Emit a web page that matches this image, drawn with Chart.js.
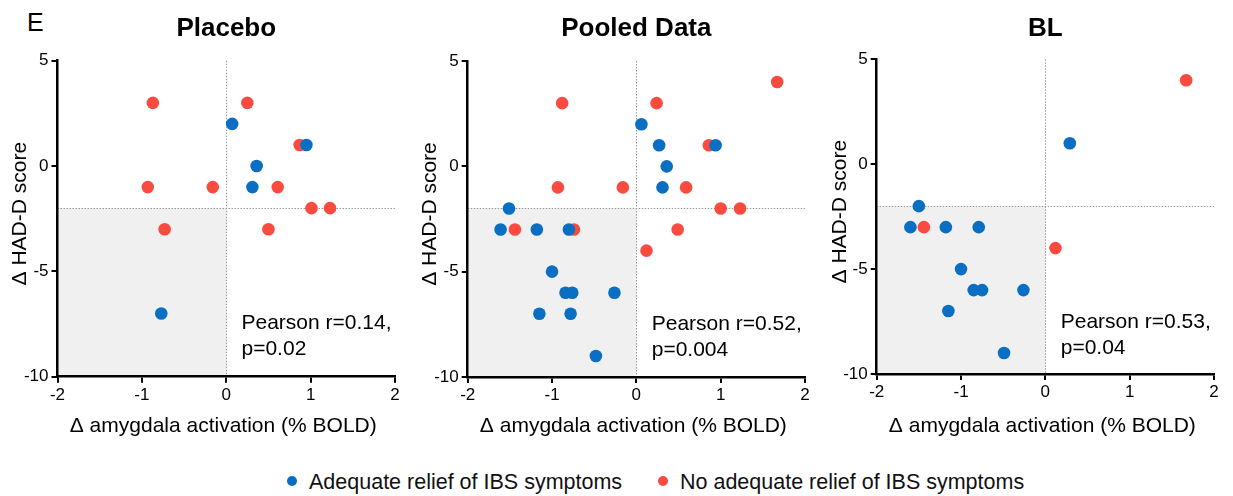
<!DOCTYPE html>
<html>
<head>
<meta charset="utf-8">
<script src="https://cdn.jsdelivr.net/npm/chart.js@4/dist/chart.umd.min.js"></script>
<style>
  html, body { margin: 0; padding: 0; background: #fff; }
  body { width: 1233px; height: 496px; position: relative; overflow: hidden; font-family: 'Liberation Sans', Arial, sans-serif; }
  .panel { position: absolute; top: 0; height: 440px; }
  .panel canvas { display: block; }
  #panelLetter { position: absolute; left: 27px; top: 8px; font-size: 25px; color: #000; }
  .legend { position: absolute; top: 469px; font-size: 21.5px; color: #111; white-space: nowrap; line-height: 26px; }
  .legend .dot { display: inline-block; width: 10px; height: 10px; border-radius: 50%; vertical-align: middle; margin-right: 12px; position: relative; top: -2px; }
</style>
</head>
<body>
<div id="panelLetter">E</div>
<div class="panel" style="left:0;width:410px"><canvas id="chartPlacebo" width="410" height="440"></canvas></div>
<div class="panel" style="left:410px;width:410px"><canvas id="chartPooled" width="410" height="440"></canvas></div>
<div class="panel" style="left:820px;width:413px"><canvas id="chartBL" width="413" height="440"></canvas></div>
<div class="legend" style="left:287px"><span class="dot" style="background:#0a6fc2"></span>Adequate relief of IBS symptoms</div>
<div class="legend" style="left:658px"><span class="dot" style="background:#fa4b40"></span>No adequate relief of IBS symptoms</div>

<script>
// axis ticks
const xTickValues = [-2, -1, 0, 1, 2];
const yTickValues = [5, 0, -5, -10];
const seriesNames = ['Adequate relief of IBS symptoms', 'No adequate relief of IBS symptoms'];

// Placebo
const placeboAdequateX = [0.07, 0.95, 0.36, 0.31, -0.77];
const placeboAdequateY = [2, 1, 0, -1, -7];
const placeboNoReliefX = [-0.87, 0.25, 0.87, -0.93, -0.16, 0.61, 1.01, 1.23, -0.73, 0.50];
const placeboNoReliefY = [3, 3, 1, -1, -1, -1, -2, -2, -3, -3];

// Pooled data
const pooledAdequateX = [0.06, 0.27, 0.94, 0.36, 0.31, -1.51, -1.61, -1.18, -0.80, -1.00, -0.84, -0.76, -0.26, -1.15, -0.78, -0.48];
const pooledAdequateY = [2, 1, 1, 0, -1, -2, -3, -3, -3, -5, -6, -6, -6, -7, -7, -9];
const pooledNoReliefX = [-0.88, 0.24, 1.67, 0.86, -0.93, -0.16, 0.59, 1.00, 1.23, -1.44, -0.74, 0.49, 0.12];
const pooledNoReliefY = [3, 3, 4, 1, -1, -1, -1, -2, -2, -3, -3, -3, -4];

// BL
const blAdequateX = [0.29, -1.50, -1.60, -1.18, -0.79, -1.00, -0.85, -0.75, -0.26, -1.15, -0.49];
const blAdequateY = [1, -2, -3, -3, -3, -5, -6, -6, -6, -7, -9];
const blNoReliefX = [1.67, -1.44, 0.12];
const blNoReliefY = [4, -3, -4];

const BLUE = '#0a6fc2', RED = '#fa4b40';
const FONT = "'Liberation Sans', Arial, sans-serif";

const toPoints = (xs, ys) => xs.map((x, i) => ({ x, y: ys[i] }));

// shaded quadrant, dotted reference lines, titles and the r/p note
const decorPlugin = {
  id: 'decor',
  beforeDraw(chart, args, o) {
    const { ctx, chartArea: a, scales: { x, y } } = chart;
    ctx.save();
    ctx.fillStyle = '#f0f0f0';
    ctx.fillRect(x.getPixelForValue(-2), y.getPixelForValue(-2), x.getPixelForValue(0) - x.getPixelForValue(-2), y.getPixelForValue(-10) - y.getPixelForValue(-2));
    ctx.strokeStyle = '#9a9a9a';
    ctx.lineWidth = 1;
    ctx.setLineDash([1.5, 1.5]);
    ctx.beginPath();
    ctx.moveTo(Math.round(x.getPixelForValue(0)) + 0.5, a.top);
    ctx.lineTo(Math.round(x.getPixelForValue(0)) + 0.5, a.bottom);
    ctx.moveTo(a.left, Math.round(y.getPixelForValue(-2)) + 0.5);
    ctx.lineTo(a.right, Math.round(y.getPixelForValue(-2)) + 0.5);
    ctx.stroke();
    ctx.restore();
  },
  afterDraw(chart, args, o) {
    const { ctx, chartArea: a } = chart;
    const cx = (a.left + a.right) / 2;
    ctx.save();
    ctx.fillStyle = '#000';
    ctx.textAlign = 'center';
    ctx.textBaseline = 'middle';
    ctx.font = 'bold 26px ' + FONT;
    ctx.fillText(o.title, cx, 29);
    ctx.font = '21px ' + FONT;
    ctx.fillText('\u0394 amygdala activation (% BOLD)', cx - 3, 426);
    ctx.save();
    ctx.translate(20, (a.top + a.bottom) / 2 - 5);
    ctx.rotate(-Math.PI / 2);
    ctx.fillText('\u0394 HAD-D score', 0, 0);
    ctx.restore();
    ctx.textAlign = 'left';
    ctx.fillText(o.r, a.left + 184, a.top + 263);
    ctx.fillText(o.p, a.left + 184, a.top + 289);
    ctx.restore();
  }
};

function makeChart(id, title, r, p, adequate, noRelief, box) {
  return new Chart(document.getElementById(id), {
    type: 'scatter',
    data: {
      datasets: [
        { label: seriesNames[0], data: adequate, backgroundColor: BLUE, borderWidth: 0, pointRadius: 6.3, pointHoverRadius: 6.3 },
        { label: seriesNames[1], data: noRelief, backgroundColor: RED, borderWidth: 0, pointRadius: 6.3, pointHoverRadius: 6.3 }
      ]
    },
    plugins: [decorPlugin],
    options: {
      responsive: false, animation: false, events: [],
      layout: { padding: { top: box.top, right: box.right, left: 0, bottom: 0 } },
      plugins: { legend: { display: false }, tooltip: { enabled: false }, decor: { title, r, p } },
      scales: {
        x: {
          type: 'linear', min: -2, max: 2,
          afterBuildTicks: s => { s.ticks = xTickValues.map(v => ({ value: v })); },
          afterFit: s => { s.height = box.bottom; },
          grid: { drawOnChartArea: false, drawTicks: true, tickLength: 6, color: '#000', lineWidth: 2 },
          border: { display: true, color: '#000', width: 2.5 },
          ticks: { color: '#000', font: { family: FONT, size: 17 }, padding: 2, maxRotation: 0 }
        },
        y: {
          type: 'linear', min: -10, max: 5,
          afterBuildTicks: s => { s.ticks = yTickValues.map(v => ({ value: v })); },
          afterFit: s => { s.width = box.left; },
          grid: { drawOnChartArea: false, drawTicks: true, tickLength: 6, color: '#000', lineWidth: 2 },
          border: { display: true, color: '#000', width: 2.5 },
          ticks: { color: '#000', font: { family: FONT, size: 17 }, padding: 3 }
        }
      }
    }
  });
}

makeChart('chartPlacebo', 'Placebo', 'Pearson r=0.14,', 'p=0.02',
  toPoints(placeboAdequateX, placeboAdequateY), toPoints(placeboNoReliefX, placeboNoReliefY),
  { left: 57.5, top: 60.7, right: 15, bottom: 63.3 });
makeChart('chartPooled', 'Pooled Data', 'Pearson r=0.52,', 'p=0.004',
  toPoints(pooledAdequateX, pooledAdequateY), toPoints(pooledNoReliefX, pooledNoReliefY),
  { left: 57.7, top: 61, right: 15, bottom: 63 });
makeChart('chartBL', 'BL', 'Pearson r=0.53,', 'p=0.04',
  toPoints(blAdequateX, blAdequateY), toPoints(blNoReliefX, blNoReliefY),
  { left: 56.7, top: 59.3, right: 19, bottom: 66 });
</script>
</body>
</html>
